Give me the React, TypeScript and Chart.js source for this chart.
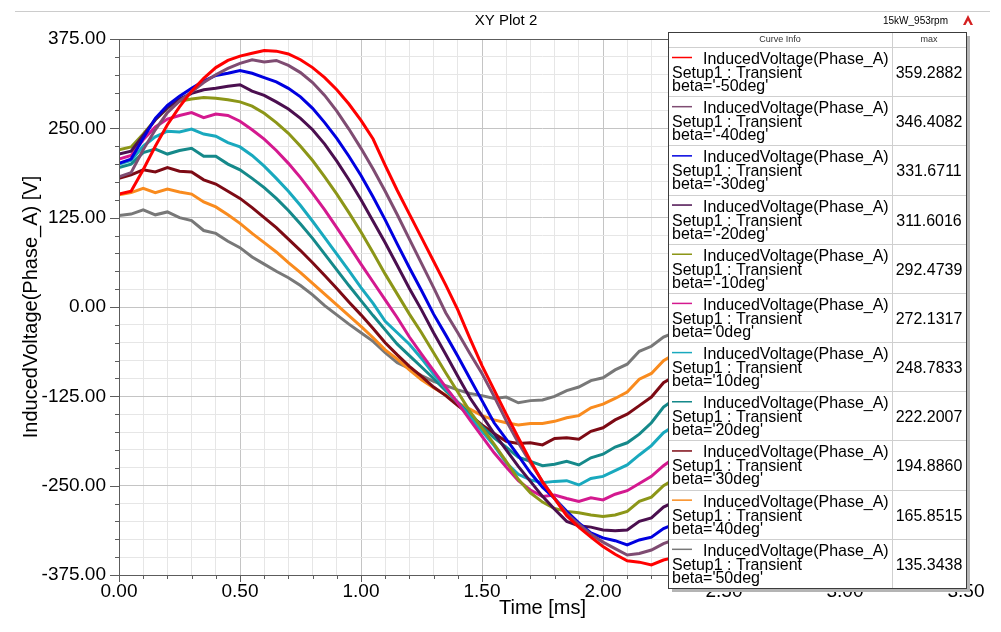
import React, { useEffect, useRef } from "react";
import { Chart, registerables } from "chart.js";

Chart.register(...registerables);

// ---------- DATA ----------
const TIMES = [
  0, 0.05, 0.1, 0.15, 0.2, 0.25, 0.3, 0.35, 0.4, 0.45, 0.5, 0.55, 0.6, 0.65, 0.7, 0.75,
  0.8, 0.85, 0.9, 0.95, 1.0, 1.05, 1.1, 1.15, 1.2, 1.25, 1.3, 1.35, 1.4, 1.45, 1.5, 1.55,
  1.6, 1.65, 1.7, 1.75, 1.8, 1.85, 1.9, 1.95, 2.0, 2.05, 2.1, 2.15, 2.2, 2.25, 2.3,
];

const BETAS = ["-50deg", "-40deg", "-30deg", "-20deg", "-10deg", "0deg", "10deg", "20deg", "30deg", "40deg", "50deg"];
const MAX_VALUES = ["359.2882", "346.4082", "331.6711", "311.6016", "292.4739", "272.1317", "248.7833", "222.2007", "194.8860", "165.8515", "135.3438"];
const COLORS = ["#ff0000", "#7f4c72", "#0000e0", "#4b0f4f", "#8c9618", "#d4198f", "#19a9be", "#15898a", "#7d0a14", "#f98b1e", "#787878"];

const V_M50 = [158, 162, 192, 225, 255, 280, 302, 320, 335, 345, 351, 355, 359, 358, 354, 346, 335, 321, 304, 284, 261, 235, 198, 163, 130, 97, 64, 31, -4, -44, -82, -116, -150, -183, -215, -245, -268, -292, -308, -322, -335, -346, -355, -357, -361, -354, -350];
const V_M40 = [182, 188, 220, 248, 272, 288, 301, 314, 325, 334, 341, 346, 343, 345, 338, 328, 314, 296, 274, 249, 222, 193, 162, 129, 95, 61, 27, -8, -36, -65, -93, -125, -159, -190, -218, -244, -268, -289, -304, -318, -329, -338, -347, -345, -340, -331, -325];
const V_M30 = [201, 207, 236, 264, 282, 295, 306, 316, 324, 327, 331, 327, 321, 315, 306, 294, 278, 258, 236, 211, 184, 154, 122, 88, 55, 23, -10, -39, -69, -100, -131, -162, -185, -208, -232, -252, -268, -286, -302, -316, -323, -327, -333, -326, -322, -310, -303];
const V_M20 = [214, 218, 240, 262, 279, 291, 299, 304, 306, 309, 311, 302, 296, 287, 277, 264, 248, 228, 204, 178, 150, 120, 90, 58, 26, -4, -36, -66, -97, -127, -152, -177, -200, -223, -244, -265, -283, -300, -306, -308, -312, -313, -312, -300, -295, -280, -272];
const V_M10 = [220, 224, 242, 262, 278, 288, 291, 293, 292, 290, 287, 281, 271, 258, 243, 225, 205, 182, 158, 132, 105, 76, 46, 18, -10, -36, -64, -92, -119, -146, -169, -192, -216, -241, -260, -273, -282, -286, -288, -291, -293, -291, -286, -272, -266, -250, -240];
const V_0 = [207, 212, 234, 252, 263, 268, 272, 265, 270, 268, 260, 248, 235, 219, 201, 181, 159, 136, 111, 86, 60, 35, 10, -15, -42, -66, -89, -112, -134, -158, -181, -204, -224, -243, -256, -265, -263, -268, -272, -267, -270, -262, -257, -247, -237, -222, -210];
const V_P10 = [200, 205, 225, 238, 246, 245, 249, 242, 239, 230, 224, 212, 197, 180, 162, 142, 120, 97, 74, 51, 27, 5, -20, -36, -52, -72, -94, -114, -134, -154, -174, -194, -218, -234, -242, -246, -244, -243, -249, -240, -237, -229, -221, -207, -194, -176, -165];
const V_P20 = [195, 200, 216, 221, 214, 219, 222, 211, 211, 200, 192, 180, 167, 152, 135, 116, 96, 74, 52, 30, 9, -12, -32, -52, -68, -84, -100, -117, -133, -150, -167, -183, -196, -210, -216, -222, -220, -216, -221, -211, -206, -196, -190, -178, -162, -140, -128];
const V_P30 = [180, 185, 192, 189, 195, 190, 189, 178, 172, 162, 152, 139, 125, 111, 95, 79, 62, 44, 26, 7, -11, -30, -50, -67, -83, -97, -112, -124, -138, -151, -165, -177, -188, -191, -190, -193, -184, -183, -185, -174, -169, -158, -150, -138, -126, -106, -96];
const V_P40 = [157, 160, 166, 160, 165, 161, 158, 147, 140, 129, 117, 103, 90, 77, 62, 48, 33, 18, 3, -12, -27, -43, -60, -73, -88, -102, -113, -123, -134, -143, -152, -158, -162, -165, -163, -163, -160, -155, -152, -141, -136, -128, -119, -101, -93, -75, -65];
const V_P50 = [128, 130, 136, 129, 133, 125, 121, 107, 103, 92, 83, 70, 60, 50, 41, 30, 17, 2, -11, -24, -36, -48, -64, -78, -86, -96, -104, -110, -116, -121, -124, -128, -126, -134, -131, -130, -125, -117, -112, -103, -99, -88, -80, -62, -55, -42, -35];

const SERIES = [V_M50, V_M40, V_M30, V_M20, V_M10, V_0, V_P10, V_P20, V_P30, V_P40, V_P50];

const X_MIN = 0;
const X_MAX = 3.5;
const X_STEP = 0.1;
const X_MAJOR = 0.5;
const Y_MIN = -375;
const Y_MAX = 375;
const Y_STEP = 25;
const Y_MAJOR = 125;

const TITLE = "XY Plot 2";
const SUBTITLE = "15kW_953rpm";
const X_TITLE = "Time [ms]";
const Y_TITLE = "InducedVoltage(Phase_A) [V]";
const CURVE_NAME = "InducedVoltage(Phase_A)";
const CURVE_SETUP = "Setup1 : Transient";

// ---------- STYLE ----------
const FONT = '"Liberation Sans", Arial, Helvetica, sans-serif';
const W = 1001;
const H = 632;

const isMajor = (v: number, m: number) => Math.abs(v / m - Math.round(v / m)) < 1e-6;

function scaledText(ctx: CanvasRenderingContext2D, text: string, x: number, y: number, sx: number, align: CanvasTextAlign) {
  ctx.save();
  ctx.translate(x, y);
  ctx.scale(sx, 1);
  ctx.textAlign = align;
  ctx.fillText(text, 0, 0);
  ctx.restore();
}

const decorPlugin = {
  id: "decor",
  afterDatasetsDraw(chart: any) {
    const { ctx, chartArea: a, scales } = chart;
    const xs = scales.x;
    const ys = scales.y;
    ctx.save();
    ctx.strokeStyle = "#5c5c5c";
    ctx.lineWidth = 1;
    ctx.strokeRect(Math.round(a.left) + 0.5, Math.round(a.top) + 0.5, Math.round(a.right - a.left), Math.round(a.bottom - a.top));
    ctx.beginPath();
    xs.ticks.forEach((t: any) => {
      const px = Math.round(xs.getPixelForValue(t.value)) + 0.5;
      const len = isMajor(t.value, X_MAJOR) ? 7 : 4;
      ctx.moveTo(px, a.bottom);
      ctx.lineTo(px, a.bottom + len);
    });
    ys.ticks.forEach((t: any) => {
      const py = Math.round(ys.getPixelForValue(t.value)) + 0.5;
      const len = isMajor(t.value, Y_MAJOR) ? 9 : 4;
      ctx.moveTo(a.left, py);
      ctx.lineTo(a.left - len, py);
    });
    ctx.stroke();
    ctx.restore();
  },
  afterDraw(chart: any) {
    const ctx: CanvasRenderingContext2D = chart.ctx;
    ctx.save();
    // top rule
    ctx.strokeStyle = "#cccccc";
    ctx.lineWidth = 1;
    ctx.beginPath();
    ctx.moveTo(15, 11.5);
    ctx.lineTo(990, 11.5);
    ctx.stroke();

    // title
    ctx.fillStyle = "#000";
    ctx.textBaseline = "middle";
    ctx.font = `15px ${FONT}`;
    ctx.textAlign = "center";
    ctx.fillText(TITLE, 506, 21);
    ctx.font = `10px ${FONT}`;
    ctx.textAlign = "right";
    ctx.fillText(SUBTITLE, 948, 21);

    // logo
    ctx.fillStyle = "#d42020";
    ctx.beginPath();
    ctx.moveTo(968, 15);
    ctx.lineTo(973, 25);
    ctx.lineTo(970.5, 25);
    ctx.lineTo(968, 20.5);
    ctx.lineTo(965.5, 25);
    ctx.lineTo(963, 25);
    ctx.closePath();
    ctx.fill();

    // legend box
    const L = 668, T = 32, R = 966, B = 588, COL = 892, HEAD = 47;
    const n = SERIES.length;
    const rowH = (B - HEAD) / n;
    ctx.fillStyle = "#b4b4b4";
    ctx.fillRect(L + 4, T + 4, R - L, B - T);
    ctx.fillStyle = "#ffffff";
    ctx.fillRect(L, T, R - L, B - T);

    ctx.strokeStyle = "#cfcfcf";
    ctx.lineWidth = 1;
    ctx.beginPath();
    for (let i = 0; i < n; i++) {
      const yy = Math.round(HEAD + i * rowH) + 0.5;
      ctx.moveTo(L, yy);
      ctx.lineTo(R, yy);
    }
    ctx.moveTo(COL + 0.5, T);
    ctx.lineTo(COL + 0.5, B);
    ctx.stroke();

    ctx.strokeStyle = "#3c3c3c";
    ctx.strokeRect(L + 0.5, T + 0.5, R - L, B - T);

    ctx.fillStyle = "#333";
    ctx.font = `9px ${FONT}`;
    ctx.textBaseline = "middle";
    ctx.textAlign = "center";
    ctx.fillText("Curve Info", (L + COL) / 2, 39.5);
    ctx.fillText("max", (COL + R) / 2, 39.5);

    ctx.textBaseline = "alphabetic";
    ctx.font = `17px ${FONT}`;
    for (let i = 0; i < n; i++) {
      const top = HEAD + i * rowH;
      ctx.strokeStyle = COLORS[i];
      ctx.lineWidth = 1.5;
      ctx.beginPath();
      ctx.moveTo(672, top + 10.5);
      ctx.lineTo(692, top + 10.5);
      ctx.stroke();
      ctx.fillStyle = "#000";
      scaledText(ctx, CURVE_NAME, 703, top + 17, 0.94, "left");
      scaledText(ctx, CURVE_SETUP, 672, top + 31, 0.94, "left");
      scaledText(ctx, `beta='${BETAS[i]}'`, 672, top + 44, 0.94, "left");
      scaledText(ctx, MAX_VALUES[i], (COL + R) / 2, top + 31, 0.94, "center");
    }
    ctx.restore();
  },
};

export default function App() {
  const ref = useRef<HTMLCanvasElement>(null);

  useEffect(() => {
    if (!ref.current) return;
    const datasets = SERIES.map((vals, i) => ({
      label: `beta='${BETAS[i]}'`,
      data: vals.map((v, j) => ({ x: TIMES[j], y: v })),
      borderColor: COLORS[i],
      backgroundColor: COLORS[i],
      borderWidth: 3,
      pointRadius: 0,
      tension: 0,
      fill: false,
    }));

    const chart = new Chart(ref.current, {
      type: "line",
      data: { datasets },
      options: {
        responsive: false,
        animation: false,
        devicePixelRatio: 1,
        layout: { padding: { left: 0, right: 35, top: 39, bottom: 0 } },
        plugins: {
          legend: { display: false },
          tooltip: { enabled: false },
          title: { display: false },
        },
        scales: {
          x: {
            type: "linear",
            min: X_MIN,
            max: X_MAX,
            afterFit: (s: any) => {
              s.height = 57;
            },
            ticks: {
              stepSize: X_STEP,
              maxTicksLimit: 1000,
              autoSkip: false,
              maxRotation: 0,
              minRotation: 0,
              padding: 5,
              color: "#000",
              font: { family: FONT, size: 19 },
              callback: (v: any) => (isMajor(Number(v), X_MAJOR) ? Number(v).toFixed(2) : ""),
            },
            grid: {
              drawTicks: false,
              lineWidth: 1,
              color: (c: any) => (c.tick && isMajor(c.tick.value, X_MAJOR) ? "#c4c4c4" : "#e6e6e6"),
            },
            border: { display: false },
            title: {
              display: true,
              text: X_TITLE,
              color: "#000",
              font: { family: FONT, size: 20, lineHeight: 1.2 },
              padding: { top: 0, bottom: 12 },
            },
          },
          y: {
            type: "linear",
            min: Y_MIN,
            max: Y_MAX,
            afterFit: (s: any) => {
              s.width = 119;
            },
            ticks: {
              stepSize: Y_STEP,
              maxTicksLimit: 1000,
              autoSkip: false,
              padding: 13,
              color: "#000",
              font: { family: FONT, size: 19 },
              callback: (v: any) => (isMajor(Number(v), Y_MAJOR) ? Number(v).toFixed(2) : ""),
            },
            grid: {
              drawTicks: false,
              lineWidth: 1,
              color: (c: any) => (c.tick && isMajor(c.tick.value, Y_MAJOR) ? "#c4c4c4" : "#e6e6e6"),
            },
            border: { display: false },
            title: {
              display: true,
              text: Y_TITLE,
              color: "#000",
              font: { family: FONT, size: 20, lineHeight: 1.2 },
              padding: { top: 19, bottom: 0 },
            },
          },
        },
      },
      plugins: [decorPlugin],
    } as any);

    return () => chart.destroy();
  }, []);

  return (
    <div style={{ position: "fixed", left: 0, top: 0, width: W, height: H, background: "#ffffff" }}>
      <canvas ref={ref} width={W} height={H} style={{ display: "block", width: W, height: H }} />
    </div>
  );
}
